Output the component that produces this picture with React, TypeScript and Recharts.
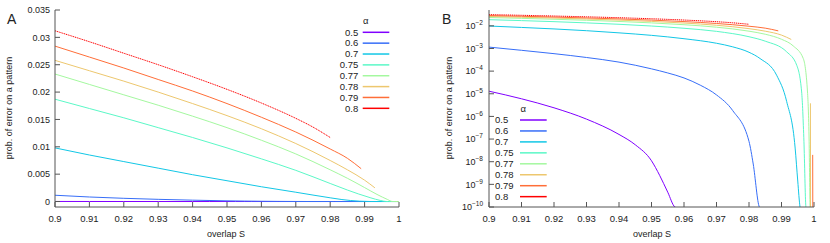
import { LineChart, Line, XAxis, YAxis } from 'recharts'

const alphas = ['0.5', '0.6', '0.7', '0.75', '0.77', '0.78', '0.79', '0.8']
const colors = ['#8000ff', '#376ef8', '#12c7e6', '#5bf8c7', '#a4f89f', '#edc76e', '#ff6e38', '#ff0000']

// overlap S / prob. of error, one pair per alpha (null = gap in the curve)
const S_50 = [0.9, 0.91, 0.92, 0.93, 0.94, 0.945, 0.95, 0.9525, 0.955, 0.9572, 1.0]
const P_50 = [1.3e-5, 6e-6, 2.4e-6, 7.6e-7, 1.6e-7, 5.6e-8, 1.1e-8, 2.5e-9, 4.5e-10, 1e-10, 1e-12]

const S_60 = [0.9, 0.91, 0.92, 0.93, 0.94, 0.95, 0.955, 0.96, 0.965, 0.97, 0.975, 0.98, 0.9813, 0.9832, 1.0]
const P_60 = [1.15e-3, 8.3e-4, 5.9e-4, 4.0e-4, 2.5e-4, 1.26e-4, 8.3e-5, 5e-5, 2.4e-5, 8.9e-6, 1.8e-6, 7.9e-8, 7.9e-9, 1e-10, 1e-12]

const S_70 = [0.9, 0.91, 0.92, 0.93, 0.94, 0.95, 0.96, 0.97, 0.975, 0.98, 0.9834, 0.9885, 0.9916, 0.9942, 0.995, 0.9957, 1.0]
const P_70 = [9.8e-3, 8.5e-3, 7.3e-3, 6.1e-3, 4.9e-3, 3.8e-3, 2.7e-3, 1.7e-3, 1.18e-3, 6.8e-4, 3.6e-4, 6.6e-5, 4.5e-6, 4e-8, 1.4e-9, 1e-10, 1e-12]

const S_75 = [0.9, 0.91, 0.92, 0.93, 0.94, 0.95, 0.96, 0.97, 0.98, 0.985, 0.9916, 0.9947, 0.9962, 0.9969, 0.9975, 1.0]
const P_75 = [0.0187, 0.017, 0.0153, 0.0135, 0.0117, 0.0098, 0.0078, 0.0057, 0.0033, 0.0021, 7.1e-4, 1.8e-4, 1.2e-5, 8e-8, 1e-10, 1e-12]

const S_77 = [0.9, 0.91, 0.92, 0.93, 0.94, 0.95, 0.96, 0.97, 0.98, 0.985, 0.99, 0.9936, 0.9967, 0.998, 0.9985, 0.9988, 1.0]
const P_77 = [0.0233, 0.0214, 0.0195, 0.0176, 0.0156, 0.0135, 0.0112, 0.0087, 0.0058, 0.00425, 0.00255, 1.3e-3, 3.6e-4, 1.2e-5, 8e-8, 1e-10, 1e-12]

const S_78 = [0.9, 0.91, 0.92, 0.93, 0.94, 0.95, 0.96, 0.97, 0.98, 0.985, 0.99, 0.993, 0.996, 0.9989, 0.99895]
const P_78 = [0.0258, 0.0239, 0.022, 0.02, 0.0179, 0.0157, 0.0133, 0.0106, 0.0075, 0.0058, 0.0039, 0.0025, null, 3.8e-6, 1e-12]

const S_79 = [0.9, 0.91, 0.92, 0.93, 0.94, 0.95, 0.96, 0.97, 0.98, 0.985, 0.989, 0.995, 0.9996, 0.99965]
const P_79 = [0.0284, 0.0264, 0.0244, 0.0223, 0.0202, 0.0179, 0.0154, 0.0127, 0.0096, 0.0079, 0.006, null, 2e-8, 1e-12]

const S_80 = [0.9, 0.91, 0.92, 0.93, 0.94, 0.95, 0.96, 0.97, 0.975, 0.98]
const P_80 = [0.0312, 0.0292, 0.0271, 0.025, 0.0228, 0.0205, 0.018, 0.0152, 0.0136, 0.0117]

const sTicks = [0.9, 0.91, 0.92, 0.93, 0.94, 0.95, 0.96, 0.97, 0.98, 0.99, 1]
const linTicks = [0, 0.005, 0.01, 0.015, 0.02, 0.025, 0.03, 0.035]
const logTicks = [1e-10, 1e-9, 1e-8, 1e-7, 1e-6, 1e-5, 1e-4, 1e-3, 1e-2]

const sCols = [S_50, S_60, S_70, S_75, S_77, S_78, S_79, S_80]
const pCols = [P_50, P_60, P_70, P_75, P_77, P_78, P_79, P_80]

const series = alphas.map((name, i) => ({
  name,
  color: colors[i],
  points: sCols[i].map((s, j) => ({ s, p: pCols[i][j] })),
}))

const AXIS = '#555'
const TXT = '#222'
const FONT = '"Liberation Sans", Arial, sans-serif'

function BottomTick(p: any) {
  return (
    <g>
      <line x1={p.x} x2={p.x} y1={p.y} y2={p.y - 5} stroke={AXIS} />
      <text x={p.x} y={p.y + 15} textAnchor="middle" fontSize={9.5} fontFamily={FONT} fill={TXT}>
        {String(p.payload.value)}
      </text>
    </g>
  )
}

function TopTick(p: any) {
  return <line x1={p.x} x2={p.x} y1={p.y} y2={p.y + 5} stroke={AXIS} />
}

function RightTick(p: any) {
  return <line x1={p.x} x2={p.x - 5} y1={p.y} y2={p.y} stroke={AXIS} />
}

function LinTick(p: any) {
  return (
    <g>
      <line x1={p.x} x2={p.x + 5} y1={p.y} y2={p.y} stroke={AXIS} />
      <text x={p.x - 5} y={p.y + 3.2} textAnchor="end" fontSize={9} fontFamily={FONT} fill={TXT}>
        {String(p.payload.value)}
      </text>
    </g>
  )
}

function LogTick(p: any) {
  const e = Math.round(Math.log10(p.payload.value))
  return (
    <g>
      <line x1={p.x} x2={p.x + 5} y1={p.y} y2={p.y} stroke={AXIS} />
      <text x={p.x - 6} y={p.y + 3.2} textAnchor="end" fontSize={9} fontFamily={FONT} fill={TXT}>
        10
        <tspan dy={-4} fontSize={6.5}>{'\u2212' + Math.abs(e)}</tspan>
      </text>
    </g>
  )
}

function Panel({ log }: { log: boolean }) {
  const yDomain = log ? [1e-10, 0.05] : [-0.001, 0.035]
  const yTicks = log ? logTicks : linTicks
  const scale = log ? 'log' : 'linear'
  return (
    <LineChart width={415} height={243} margin={{ top: 10, right: 16, bottom: 0, left: 0 }}>
      <XAxis xAxisId="b" type="number" dataKey="s" domain={[0.9, 1]} ticks={sTicks} interval={0}
        allowDataOverflow height={36} tickSize={0} tickMargin={0} tickLine={false}
        axisLine={{ stroke: AXIS }} tick={BottomTick} />
      <XAxis xAxisId="t" orientation="top" type="number" dataKey="s" domain={[0.9, 1]} ticks={sTicks}
        interval={0} allowDataOverflow height={0} tickSize={0} tickMargin={0} tickLine={false}
        axisLine={{ stroke: AXIS }} tick={TopTick} />
      <YAxis yAxisId="l" type="number" scale={scale} domain={yDomain} ticks={yTicks} interval={0}
        allowDataOverflow width={log ? 74 : 55} tickSize={0} tickMargin={0} tickLine={false}
        axisLine={{ stroke: AXIS }} tick={log ? LogTick : LinTick} />
      <YAxis yAxisId="r" orientation="right" type="number" scale={scale} domain={yDomain} ticks={yTicks}
        interval={0} allowDataOverflow width={0} tickSize={0} tickMargin={0} tickLine={false}
        axisLine={{ stroke: AXIS }} tick={RightTick} />
      {series.map((s) => (
        <Line key={s.name} xAxisId="b" yAxisId="l" data={s.points} dataKey="p" name={s.name}
          type="monotone" stroke={s.color} strokeWidth={1} dot={false} connectNulls={false}
          strokeDasharray={s.name === '0.8' ? '1.2 0.7' : undefined} isAnimationActive={false} />
      ))}
    </LineChart>
  )
}

function AlphaLegend({ titleX, titleY, rowY, rowStep, textX, anchor, lineX1, lineX2 }: any) {
  return (
    <g fontFamily={FONT} fill={TXT}>
      <text x={titleX} y={titleY} fontSize={9.5} textAnchor="middle">α</text>
      {alphas.map((a, i) => {
        const y = rowY + i * rowStep
        return (
          <g key={a}>
            <text x={textX} y={y + 3.3} fontSize={9.5} textAnchor={anchor}>{a}</text>
            <line x1={lineX1} x2={lineX2} y1={y} y2={y} stroke={colors[i]} strokeWidth={1.5} />
          </g>
        )
      })}
    </g>
  )
}

export default function App() {
  return (
    <div style={{ position: 'absolute', left: 0, top: 0, width: 830, height: 243, background: '#fff' }}>
      <div style={{ position: 'absolute', left: 0, top: 0 }}>
        <Panel log={false} />
      </div>
      <div style={{ position: 'absolute', left: 415, top: 0 }}>
        <Panel log={true} />
      </div>
      <svg width={830} height={243} style={{ position: 'absolute', left: 0, top: 0, pointerEvents: 'none' }}>
        <g fontFamily={FONT} fill={TXT}>
          <text x={7} y={24} fontSize={14}>A</text>
          <text x={442} y={24} fontSize={14}>B</text>
          <text transform="translate(12,108) rotate(-90)" textAnchor="middle" fontSize={9}>prob. of error on a pattern</text>
          <text transform="translate(451.5,108) rotate(-90)" textAnchor="middle" fontSize={9}>prob. of error on a pattern</text>
          <text x={226} y={237} textAnchor="middle" fontSize={9}>overlap S</text>
          <text x={652} y={237} textAnchor="middle" fontSize={9}>overlap S</text>
        </g>
        <AlphaLegend titleX={365.7} titleY={24} rowY={32.3} rowStep={10.86} textX={358.3} anchor="end" lineX1={362.7} lineX2={389.3} />
        <AlphaLegend titleX={523.3} titleY={112} rowY={120} rowStep={10.95} textX={495} anchor="start" lineX1={520} lineX2={546.7} />
      </svg>
    </div>
  )
}
